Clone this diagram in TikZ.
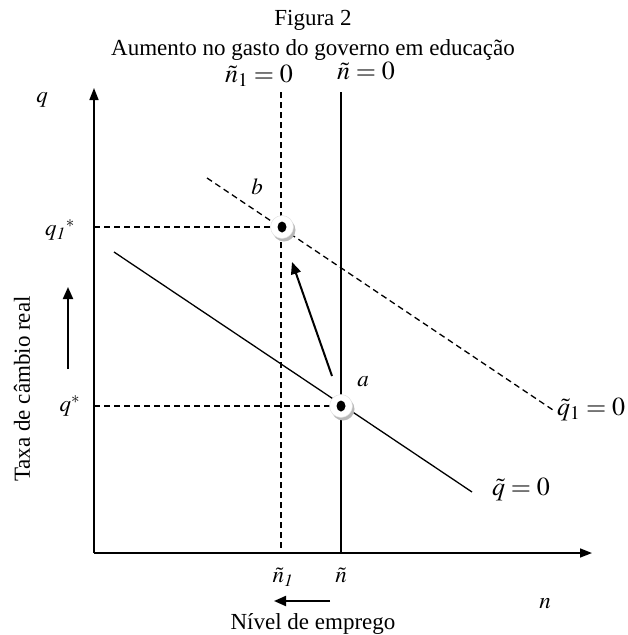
\documentclass[tikz,border=0pt]{standalone}
\usepackage{mathptmx}
\usepackage{fontspec}
\setmainfont{Liberation Serif}
\usetikzlibrary{arrows.meta, shadows}

\tikzset{
  axis/.style   = {line width=1.6pt, -{Triangle[length=12pt,width=9pt]}},
  curve/.style  = {line width=1.3pt},
  guide/.style  = {line width=1.3pt, dash pattern=on 6pt off 4pt},
  moveline/.style = {line width=2pt, -{Triangle[length=12pt,width=10pt]}},
  lbl/.style    = {inner sep=0pt, font=\fontsize{23}{27}\selectfont},
  eqlbl/.style  = {inner sep=0pt, font=\fontsize{26}{30}\selectfont},
  eqpt/.style   = {circle, minimum size=23pt, inner sep=0pt,
                   fill=white, draw=gray!25,
                   drop shadow={shadow xshift=2pt, shadow yshift=-3pt,
                                fill=gray!55, opacity=1}},
}

\begin{document}
\begin{tikzpicture}[x=1pt, y=-1pt]
  \useasboundingbox (0,0) rectangle (627,635);

  % titulo
  \node[lbl] (fig)   at (313,20) {Figura 2};
  \node[lbl] (title) at (313,50) {Aumento no gasto do governo em educação};

  % eixos
  \coordinate (O)    at (94,553);
  \coordinate (ytop) at (94,88);
  \coordinate (xend) at (592,553);
  \draw[axis] (O) -- (ytop);
  \draw[axis] (O) -- (xend);
  \node[lbl] (q) at (42,100) {$q$};
  \node[lbl] (n) at (545,604) {$n$};

  % n = 0 antes e depois
  \coordinate (ntop)    at (341,92);
  \coordinate (nbot)    at (341,553);
  \coordinate (nonetop) at (281,92);
  \coordinate (nonebot) at (281,553);
  \draw[curve] (ntop) -- (nbot);
  \draw[guide] (nonetop) -- (nonebot);
  \node[eqlbl] (nlab)    at (366,71) {$\tilde{n} = 0$};
  \node[eqlbl] (nonelab) at (259,76) {$\tilde{n}_1 = 0$};
  \node[lbl] (nt)      at (341,575) {$\tilde{n}$};
  \node[lbl] (nonet)   at (283,577) {$\tilde{n}_{\mathit{1}}$};

  % q = 0 antes e depois
  \coordinate (a) at (341,406);
  \coordinate (b) at (282,227);
  \coordinate (qs) at (114,252);
  \coordinate (qe) at (472,492);
  \coordinate (qones) at (207,178);
  \coordinate (qonee) at (553,410);
  \draw[curve] (qs) -- (qe);
  \draw[guide] (qones) -- (qonee);
  \node[eqlbl, anchor=west] (qlab)    at (492,490) {$\tilde{q} = 0$};
  \node[eqlbl, anchor=west] (qonelab) at (557,410) {$\tilde{q}_1 = 0$};

  % niveis de q
  \coordinate (qstar)    at (94,406);
  \coordinate (qonestar) at (94,227);
  \draw[guide] (qstar) -- (a);
  \draw[guide] (qonestar) -- (b);
  \node[lbl] (qslab)  at (70,406) {$q^{*}$};
  \node[lbl] (qoslab) at (60,230) {$q_{\mathit{1}}{}^{*}$};

  % equilibrios
  \node[eqpt] (pa) at (a) {};
  \node[eqpt] (pb) at (b) {};
  \fill (a) ellipse (4.5pt and 5.5pt);
  \fill (b) ellipse (4.5pt and 5.5pt);
  \node[lbl] (alab) at (363,382) {$a$};
  \node[lbl] (blab) at (257,187) {$b$};

  % deslocamento
  \coordinate (mvs) at (332,376);
  \coordinate (mve) at (292,262);
  \draw[moveline] (mvs) -- (mve);

  % rotulos dos eixos
  \node[lbl, rotate=90] (ylab) at (22,389) {Taxa de câmbio real};
  \coordinate (ups) at (68,369);
  \coordinate (upe) at (68,287);
  \draw[moveline] (ups) -- (upe);
  \node[lbl] (xlab) at (313,624) {Nível de emprego};
  \coordinate (lfs) at (330,601);
  \coordinate (lfe) at (274,601);
  \draw[moveline] (lfs) -- (lfe);
\end{tikzpicture}
\end{document}
